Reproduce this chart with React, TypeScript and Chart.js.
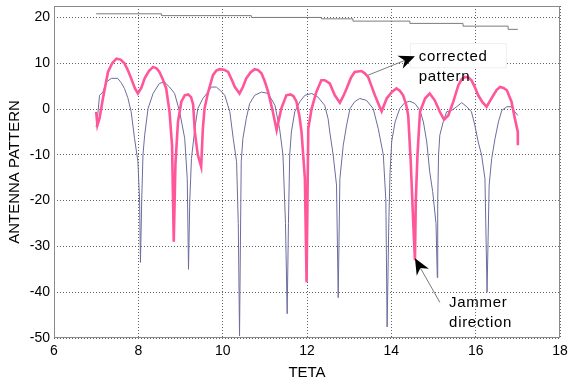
import React, { useEffect, useRef } from 'react';
import { Chart, registerables } from 'chart.js';

Chart.register(...registerables);

const xTicks = [6, 8, 10, 12, 14, 16, 18];
const yTicks = [-50, -40, -30, -20, -10, 0, 10, 20];

// top staircase curve
const envelopeTeta = [7.0, 8.55, 10.68, 12.34, 13.09, 14.44, 15.7, 16.77, 17.0];
const envelopeLevel = [20.8, 20.4, 20.0, 19.7, 19.2, 18.7, 18.1, 17.4, 17.4];

// original (uncorrected) pattern
const originalTeta = [
  7.0, 7.04, 7.08, 7.16, 7.24, 7.36, 7.51, 7.59, 7.67, 7.75, 7.83, 7.91, 7.99, 8.03, 8.05, 8.08, 8.11, 8.15,
  8.23, 8.35, 8.5, 8.62, 8.74, 8.86, 8.98, 9.1, 9.16, 9.19, 9.22, 9.26, 9.34, 9.41, 9.53, 9.65, 9.73, 9.85,
  9.95, 10.05, 10.17, 10.25, 10.33, 10.37, 10.4, 10.42, 10.44, 10.48, 10.56, 10.64, 10.76, 10.92, 11.08,
  11.24, 11.35, 11.43, 11.49, 11.53, 11.56, 11.59, 11.63, 11.71, 11.83, 11.95, 12.11, 12.26, 12.42, 12.5,
  12.54, 12.62, 12.7, 12.74, 12.78, 12.86, 12.94, 13.02, 13.13, 13.25, 13.41, 13.57, 13.69, 13.81, 13.87,
  13.9, 13.94, 13.97, 14.01, 14.09, 14.2, 14.32, 14.44, 14.56, 14.68, 14.76, 14.84, 14.91, 14.98, 15.06,
  15.09, 15.1, 15.12, 15.15, 15.23, 15.31, 15.43, 15.55, 15.67, 15.79, 15.9, 15.98, 16.06, 16.14, 16.22,
  16.27, 16.32, 16.38, 16.46, 16.54, 16.62, 16.74, 16.85, 16.93, 17.0,
];
const originalLevel = [
  -3.9, -1.0, 3.0, 3.7, 5.9, 6.7, 6.7, 5.8, 4.5, 2.5, -0.6, -6.4, -11.5, -20, -33.5, -20, -10.0, -5.7,
  0.1, 3.4, 5.6, 5.9, 4.8, 3.4, -0.6, -6.4, -15.2, -35.0, -20, -10.8, -4.3, 0.1, 2.3, 3.7, 4.8, 4.8,
  4.0, 3.0, -0.6, -6.4, -11.5, -25, -49.5, -30, -11.5, -6.4, -2.1, 1.2, 3.0, 3.7, 3.4,
  0.8, -4.3, -10.0, -25, -44.7, -25, -10.0, -5.0, -0.6, 1.6, 3.0, 3.4, 2.6, 0.8, -2.1,
  -5.0, -10.0, -16.6, -41.2, -15.2, -7.9, -3.5, 0.1, 1.6, 2.3, 1.9, 0.1, -4.3, -10.0, -20,
  -47.6, -25, -13.7, -7.0, -2.8, 0.1, 1.4, 1.7, 1.2, -0.3, -2.8, -7.2, -13.7, -18, -25,
  -36.8, -20, -10, -5.7, -2.8, -0.6, -0.3, 0.5, 1.4, 0.5, -0.6, -3.5, -7.2, -10.0, -15.2,
  -40.0, -16.6, -10.8, -6.4, -2.8, -0.3, 0.5, 0.5, -0.6, -1.4,
];

// corrected pattern
const correctedTeta = [
  7.0, 7.03, 7.08, 7.16, 7.28, 7.38, 7.48, 7.58, 7.67, 7.75, 7.83, 7.92, 7.99, 8.07, 8.15, 8.25, 8.35, 8.43,
  8.5, 8.58, 8.66, 8.74, 8.8, 8.84, 8.88, 8.94, 9.02, 9.1, 9.18, 9.25, 9.3, 9.34, 9.41, 9.49, 9.53, 9.57,
  9.65, 9.77, 9.85, 9.93, 10.03, 10.13, 10.21, 10.29, 10.4, 10.48, 10.56, 10.66, 10.76, 10.84, 10.92, 11.0,
  11.08, 11.19, 11.28, 11.39, 11.51, 11.61, 11.68, 11.75, 11.82, 11.87, 11.95, 11.99, 12.03, 12.11, 12.22,
  12.34, 12.42, 12.54, 12.66, 12.78, 12.86, 12.94, 13.04, 13.13, 13.29, 13.37, 13.45, 13.53, 13.61, 13.7,
  13.77, 13.89, 14.01, 14.12, 14.2, 14.28, 14.35, 14.4, 14.46, 14.52, 14.56, 14.58, 14.62, 14.68, 14.8,
  14.91, 15.03, 15.15, 15.25, 15.35, 15.47, 15.59, 15.67, 15.75, 15.83, 15.9, 15.98, 16.06, 16.16, 16.26,
  16.34, 16.42, 16.5, 16.58, 16.66, 16.74, 16.85, 16.93, 17.0, 17.0,
];
const correctedLevel = [
  -0.6, -3.5, -2.0, 2.3, 8.1, 10.0, 11.0, 10.8, 10.0, 8.5, 6.7, 4.5, 3.4, 4.6, 6.7, 8.3, 9.2, 8.9,
  8.1, 6.5, 4.5, -0.6, -8.0, -29.0, -12.0, -2.8, 1.6, 3.0, 3.2, 2.6, 1.0, -5.0, -10.0, -12.6, -4.3, 0.1,
  3.5, 7.4, 8.4, 8.7, 8.6, 8.1, 6.5, 4.8, 3.4, 4.8, 6.7, 8.0, 8.7, 8.5, 7.8, 6.0,
  3.7, -0.6, -4.6, 0.1, 3.0, 3.2, 2.8, 1.6, -1.5, -5.0, -15.2, -37.8, -4.3, 0.1, 3.7,
  6.3, 6.3, 5.6, 3.0, 1.4, 2.8, 4.5, 6.8, 8.1, 8.3, 7.8, 7.0, 5.0, 3.0, 1.0,
  -0.5, 2.3, 3.7, 4.5, 4.0, 3.0, 1.0, -1.4, -11.5, -25.0, -33.0, -20, -10, -0.6, 2.3,
  3.4, 1.9, -0.6, -2.3, -1.4, 1.6, 5.2, 6.5, 7.0, 6.9, 6.3, 4.8, 3.0, 1.5, 0.5,
  1.8, 3.0, 4.2, 4.8, 4.6, 4.1, 1.6, -2.1, -5.0, -7.9,
];

const pts = (xs: number[], ys: number[]) => xs.map((x, i) => ({ x, y: ys[i] }));

const FONT = '"Liberation Sans", Arial, Helvetica, sans-serif';

const notesPlugin = {
  id: 'notes',
  afterDraw(chart: any) {
    const { ctx, chartArea: a, scales } = chart;
    const X = (v: number) => scales.x.getPixelForValue(v);
    const Y = (v: number) => scales.y.getPixelForValue(v);
    ctx.save();
    // plot box
    ctx.strokeStyle = '#8a8a8a';
    ctx.lineWidth = 1;
    ctx.setLineDash([]);
    ctx.strokeRect(Math.round(a.left) + 0.5, Math.round(a.top) + 0.5, Math.round(a.width) - 1, Math.round(a.height) - 1);

    // label box for "corrected pattern"
    const bx1 = X(14.44), bx2 = X(16.74), by1 = Y(14.4), by2 = Y(8.9);
    ctx.fillStyle = '#ffffff';
    ctx.fillRect(bx1, by1, bx2 - bx1, by2 - by1);
    ctx.strokeStyle = '#f0f0f0';
    ctx.strokeRect(bx1 + 0.5, by1 + 0.5, bx2 - bx1 - 1, by2 - by1 - 1);

    const arrow = (sx: number, sy: number, tx: number, ty: number) => {
      const dx = tx - sx, dy = ty - sy;
      const len = Math.hypot(dx, dy);
      const ux = dx / len, uy = dy / len;
      const px = -uy, py = ux;
      const hl = 16, hw = 7, notch = 5;
      const bx = tx - ux * hl, by = ty - uy * hl;
      const nx = tx - ux * (hl - notch), ny = ty - uy * (hl - notch);
      ctx.strokeStyle = '#7a7a7a';
      ctx.lineWidth = 1;
      ctx.beginPath();
      ctx.moveTo(sx, sy);
      ctx.lineTo(nx, ny);
      ctx.stroke();
      ctx.fillStyle = '#000';
      ctx.beginPath();
      ctx.moveTo(tx, ty);
      ctx.lineTo(bx + px * hw, by + py * hw);
      ctx.lineTo(nx, ny);
      ctx.lineTo(bx - px * hw, by - py * hw);
      ctx.closePath();
      ctx.fill();
    };

    arrow(X(13.45), Y(7.4), X(14.56), Y(11.5));
    arrow(X(15.15), Y(-42.2), X(14.56), Y(-32.6));

    ctx.fillStyle = '#000';
    ctx.font = '15px ' + FONT;
    ctx.textBaseline = 'middle';
    ctx.textAlign = 'left';
    try { (ctx as any).letterSpacing = '0.7px'; } catch (e) {}
    ctx.fillText('corrected', X(14.65), Y(11.5));
    ctx.fillText('pattern', X(14.65), Y(7.0));
    ctx.fillText('Jammer', X(15.37), Y(-42.3));
    ctx.fillText('direction', X(15.37), Y(-46.6));
    ctx.restore();
  },
};

export default function App() {
  const ref = useRef<HTMLCanvasElement>(null);
  useEffect(() => {
    const canvas = ref.current;
    if (!canvas) return;
    const grid = { color: 'rgba(70,70,70,0.85)', lineWidth: 1, drawTicks: false };
    const chart = new Chart(canvas, {
      type: 'line',
      data: {
        datasets: [
          {
            label: 'corrected',
            data: pts(correctedTeta, correctedLevel),
            borderColor: '#ff5599',
            borderWidth: 2.6,
            pointRadius: 0,
            fill: false,
            tension: 0,
          },
          {
            label: 'original',
            data: pts(originalTeta, originalLevel),
            borderColor: '#6c6c9e',
            borderWidth: 1,
            pointRadius: 0,
            fill: false,
            tension: 0,
          },
          {
            label: 'envelope',
            data: pts(envelopeTeta, envelopeLevel),
            borderColor: '#7c7c7c',
            borderWidth: 1,
            pointRadius: 0,
            fill: false,
            stepped: 'before',
          },
        ],
      },
      options: {
        responsive: false,
        animation: false,
        devicePixelRatio: 1,
        parsing: false as any,
        layout: { padding: { left: 0, right: 8, top: 6, bottom: 0 } },
        plugins: { legend: { display: false }, tooltip: { enabled: false } },
        scales: {
          x: {
            type: 'linear',
            min: 6,
            max: 18,
            afterBuildTicks: (s: any) => { s.ticks = xTicks.map((v) => ({ value: v })); },
            afterFit: (s: any) => { s.height = 45; s.paddingLeft = 0; s.paddingRight = 0; },
            grid,
            border: { display: false, dash: [1, 2] },
            ticks: { color: '#000', padding: 5, font: { family: FONT, size: 14 }, maxRotation: 0 },
            title: { display: true, text: 'TETA', color: '#000', font: { family: FONT, size: 15 }, padding: { top: 0, bottom: 1 } },
          },
          y: {
            type: 'linear',
            min: -50,
            max: 22.5,
            afterBuildTicks: (s: any) => { s.ticks = yTicks.map((v) => ({ value: v })); },
            afterFit: (s: any) => { s.width = 54; s.paddingTop = 0; s.paddingBottom = 0; },
            grid,
            border: { display: false, dash: [1, 2] },
            ticks: { color: '#000', padding: 4, font: { family: FONT, size: 14 } },
            title: { display: true, text: 'ANTENNA PATTERN', color: '#000', font: { family: FONT, size: 15 }, padding: { top: 6, bottom: 0 } },
          },
        },
      } as any,
      plugins: [notesPlugin],
    });
    return () => chart.destroy();
  }, []);
  return (
    <div style={{ position: 'absolute', left: 0, top: 0, width: 568, height: 383, background: '#fff' }}>
      <canvas ref={ref} width={568} height={383} style={{ display: 'block' }} />
    </div>
  );
}
